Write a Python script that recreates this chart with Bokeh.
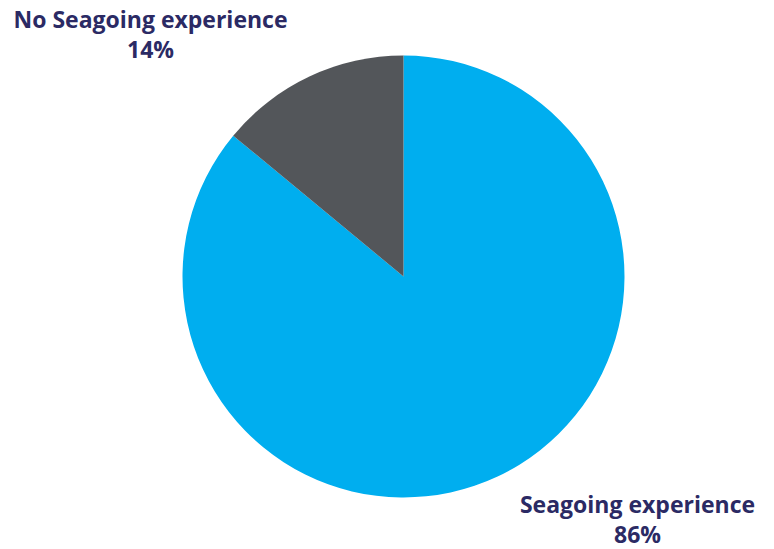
from bokeh.plotting import figure
from bokeh.models import Range1d, ColumnDataSource
from bokeh.core.properties import value
from bokeh.embed import file_html
from bokeh.resources import INLINE
import numpy as np

categories = ["Seagoing experience", "No Seagoing experience"]
shares = [86, 14]
colors = ["#00AEEF", "#53565A"]

W, H = 774, 549
p = figure(width=W, height=H, output_backend="svg", toolbar_location=None,
           x_range=Range1d(0, W), y_range=Range1d(0, H), min_border=0)
p.axis.visible = False
p.grid.visible = False
p.outline_line_color = None
p.background_fill_color = "white"

cx, cy, r = 403, H - 276, 221
fr = np.array(shares) / sum(shares)
ends = np.pi / 2 - 2 * np.pi * np.cumsum(fr)
starts = np.concatenate([[np.pi / 2], ends[:-1]])
src = ColumnDataSource(dict(start=ends, end=starts, color=colors))
p.wedge(x=cx, y=cy, radius=r, start_angle="start", end_angle="end",
        fill_color="color", line_color=None, source=src)

label_pos = [(637, H - 503), (150, H - 18)]
lx = [pp[0] for pp in label_pos]
ly = [pp[1] for pp in label_pos]
p.text(x=lx, y=ly, text=categories, text_align="center", text_baseline="middle",
       text_font=value("Open Sans"), text_font_style="bold", text_font_size="23px",
       text_color="#2B2A64")
p.text(x=lx, y=[v - 30 for v in ly], text=[f"{s}%" for s in shares], text_align="center",
       text_baseline="middle", text_font=value("Open Sans"), text_font_style="bold",
       text_font_size="23px", text_color="#2B2A64")

open("out.html", "w").write(file_html(p, INLINE))
